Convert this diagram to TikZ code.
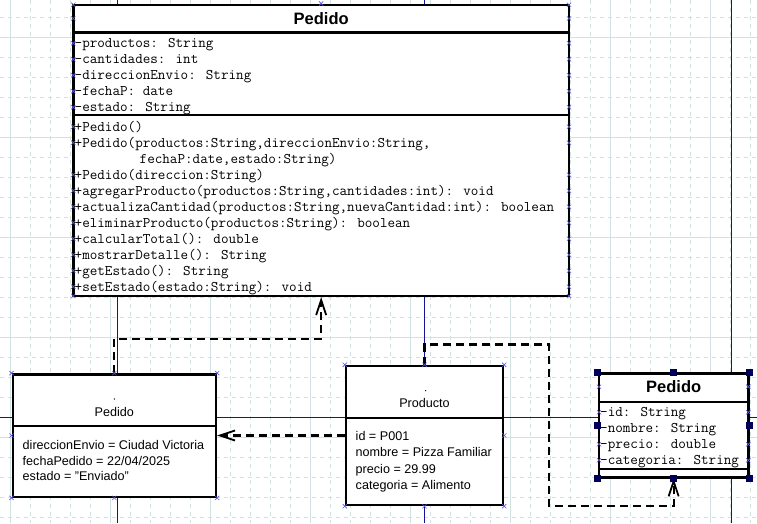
\documentclass[tikz,border=0pt]{standalone}
\usepackage{fontspec}
\setmainfont{Liberation Sans}
\usetikzlibrary{arrows.meta,shapes.misc}
\definecolor{gridc}{RGB}{210,226,226}
\definecolor{guide}{RGB}{20,20,150}
\definecolor{portc}{RGB}{90,90,215}
\definecolor{handle}{RGB}{0,0,90}
\begin{document}
\begin{tikzpicture}[x=1pt,y=-1pt,
  box/.style={draw=black, line width=2.4pt, fill=white, inner sep=0pt, rectangle},
  sepline/.style={line width=2.4pt},
  mono/.style={font=\ttfamily\fontsize{14.7}{16}\selectfont, inner sep=0pt, anchor=base west},
  objtext/.style={font=\fontsize{12.6}{15}\selectfont, inner sep=0pt, anchor=base west},
  objtitle/.style={font=\fontsize{12.6}{15}\selectfont, inner sep=0pt},
  ttl/.style={font=\bfseries\fontsize{16.5}{18}\selectfont, inner sep=0pt},
  dep/.style={line width=2.2pt, dash pattern=on 8pt off 5pt,
    -{Straight Barb[length=15pt,width=10pt,line width=1.8pt]}},
  port/.style={draw=portc, cross out, minimum size=3.6pt, inner sep=0pt, line width=0.6pt},
  hdl/.style={fill=handle, draw=none, minimum size=7pt, inner sep=0pt, rectangle},
  minorgrid/.style={gridc, line width=0.8pt, dash pattern=on 4pt off 4pt},
  majorgrid/.style={gridc, line width=0.9pt},
  guideline/.style={guide, line width=0.9pt}]
\useasboundingbox (0,0) rectangle (757,523);
\fill[white] (0,0) rectangle (757,523);
% grid
\begin{scope}
\clip (0,0) rectangle (757,523);
\foreach \i in {0,...,37} \draw[minorgrid] (10.7+20*\i,0) -- (10.7+20*\i,523);
\foreach \i in {0,...,25} \draw[minorgrid] (0,17.3+20*\i) -- (757,17.3+20*\i);
\foreach \i in {0,...,7} \draw[majorgrid] (10.7+100*\i,0) -- (10.7+100*\i,523);
\foreach \i in {0,...,4} \draw[majorgrid] (0,37.3+100*\i) -- (757,37.3+100*\i);
% guide lines
\draw[guideline] (117,0) -- (117,523);
\draw[guideline] (424.5,0) -- (424.5,523);
\draw[guideline] (731.5,0) -- (731.5,523);
\draw[guideline] (0,417.7) -- (757,417.7);
\end{scope}

% ===== big class box =====
\node[box, minimum width=495.7, minimum height=291.3] (cls) at (321.15,150.35) {};
\draw[sepline] (73.3,32.3) -- (569,32.3);
\draw[sepline] (73.3,115) -- (569,115);
\node[ttl] (clsname) at (321.15,18.5) {Pedido};
\node[mono] (a1) at (74.5,47.8) {-productos: String};
\node[mono] (a2) at (74.5,63.8) {-cantidades: int};
\node[mono] (a3) at (74.5,79.8) {-direccionEnvio: String};
\node[mono] (a4) at (74.5,95.8) {-fechaP: date};
\node[mono] (a5) at (74.5,111.8) {-estado: String};
\node[mono] (m1) at (74.5,131.2) {+Pedido()};
\node[mono] (m2) at (74.5,147.2) {+Pedido(productos:String,direccionEnvio:String,};
\node[mono] (m2b) at (139.5,163.2) {fechaP:date,estado:String)};
\node[mono] (m3) at (74.5,179.2) {+Pedido(direccion:String)};
\node[mono] (m4) at (74.5,195.2) {+agregarProducto(productos:String,cantidades:int): void};
\node[mono] (m5) at (74.5,211.2) {+actualizaCantidad(productos:String,nuevaCantidad:int): boolean};
\node[mono] (m6) at (74.5,227.2) {+eliminarProducto(productos:String): boolean};
\node[mono] (m7) at (74.5,243.2) {+calcularTotal(): double};
\node[mono] (m8) at (74.5,259.2) {+mostrarDetalle(): String};
\node[mono] (m9) at (74.5,275.2) {+getEstado(): String};
\node[mono] (m10) at (74.5,291.2) {+setEstado(estado:String): void};

% ===== object Pedido =====
\node[box, minimum width=203.3, minimum height=122.4] (obj) at (114.35,435.5) {};
\draw[sepline] (12.7,426) -- (216,426);
\fill (114.35,399) circle (0.7);
\node[objtitle] (objname) at (114.35,411.7) {Pedido};
\node[objtext] (o1) at (22.5,449.5) {direccionEnvio = Ciudad Victoria};
\node[objtext] (o2) at (22.5,465.2) {fechaPedido = 22/04/2025};
\node[objtext] (o3) at (22.5,480.8) {estado = "Enviado"};

% ===== object Producto =====
\node[box, minimum width=157, minimum height=139] (prod) at (424.5,435.5) {};
\draw[sepline] (346,417.7) -- (503,417.7);
\fill (425.7,390.7) circle (0.7);
\node[objtitle] (prodname) at (424.5,403.3) {Producto};
\node[objtext] (p1) at (355.5,440.5) {id = P001};
\node[objtext] (p2) at (355.5,456.8) {nombre = Pizza Familiar};
\node[objtext] (p3) at (355.5,473) {precio = 29.99};
\node[objtext] (p4) at (355.5,489.2) {categoria = Alimento};

% ===== small class Pedido =====
\node[box, minimum width=149.3, minimum height=104] (small) at (673.65,425.3) {};
\draw[sepline] (599,401.7) -- (748.3,401.7);
\draw[sepline] (599,469) -- (748.3,469);
\node[ttl] (smallname) at (673.65,386.7) {Pedido};
\node[mono] (s1) at (600,416.8) {-id: String};
\node[mono] (s2) at (600,432.8) {-nombre: String};
\node[mono] (s3) at (600,448.8) {-precio: double};
\node[mono] (s4) at (600,464.8) {-categoria: String};

% ===== dependencies =====
\coordinate (bend1) at (114.35,338.7);
\coordinate (bend2) at (424.5,344.5);
\coordinate (bend3) at (549,344.5);
\coordinate (bend4) at (549,505.7);
\draw[dep] (obj.north) -- (bend1) -| (cls.south);
\draw[dep] (prod.north) -- (bend2) -- (bend3) -- (bend4) -| (small.south);
\draw[dep] (prod.west) -- (obj.east);

% ===== port markers =====
\foreach \y in {4.7,18.5,43.3,59.3,75.3,91.3,107.3,126.7,142.7,174.7,190.7,206.7,222.7,238.7,254.7,270.7,286.7,296} {
  \node[port] at (73.3,\y) {};
  \node[port] at (569,\y) {};
}
\node[port] at (cls.north) {};
\foreach \a in {north west,north,north east,west,south west,south,south east}
  \node[port] at (obj.\a) {};
\foreach \a in {north west,north,north east,east,south west,south,south east}
  \node[port] at (prod.\a) {};
\foreach \y in {386.7,412.3,444.3,460.3} {
  \node[port] at (599,\y) {};
  \node[port] at (748.3,\y) {};
}
% selection handles
\foreach \a in {north west,north,north east,west,east,south west,south,south east}
  \node[hdl] at (small.\a) {};
\end{tikzpicture}
\end{document}
